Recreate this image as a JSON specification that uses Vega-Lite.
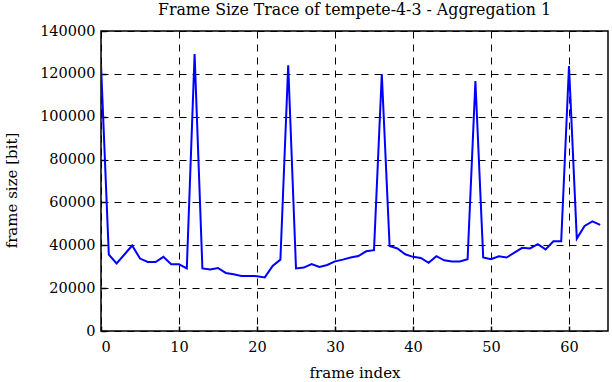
{
  "$schema": "https://vega.github.io/schema/vega-lite/v6.json",
  "autosize": "none",
  "width": 507,
  "height": 300,
  "padding": {"left": 101, "top": 31, "right": 4, "bottom": 51},
  "background": "white",
  "title": {
    "text": "Frame Size Trace of tempete-4-3 - Aggregation 1",
    "font": "DejaVu Serif",
    "fontSize": 15.8,
    "fontWeight": "normal",
    "color": "black",
    "anchor": "middle",
    "offset": 4
  },
  "config": {
    "view": {"stroke": "black", "strokeWidth": 1.5},
    "axis": {
      "labelFont": "DejaVu Serif",
      "titleFont": "DejaVu Serif",
      "labelFontSize": 14.5,
      "titleFontSize": 15,
      "titleFontWeight": "normal",
      "labelColor": "black",
      "titleColor": "black",
      "domain": false,
      "tickColor": "black",
      "tickSize": -5,
      "tickWidth": 1.5,
      "grid": true,
      "gridColor": "black",
      "gridOpacity": 1,
      "gridWidth": 1,
      "gridDash": [7, 6]
    }
  },
  "data": {
    "values": [
      {"frame": 0, "size": 124500},
      {"frame": 1, "size": 35700},
      {"frame": 2, "size": 31500},
      {"frame": 3, "size": 35700},
      {"frame": 4, "size": 39900},
      {"frame": 5, "size": 33800},
      {"frame": 6, "size": 32200},
      {"frame": 7, "size": 32200},
      {"frame": 8, "size": 34600},
      {"frame": 9, "size": 31200},
      {"frame": 10, "size": 31100},
      {"frame": 11, "size": 29200},
      {"frame": 12, "size": 129200},
      {"frame": 13, "size": 29200},
      {"frame": 14, "size": 28700},
      {"frame": 15, "size": 29400},
      {"frame": 16, "size": 27100},
      {"frame": 17, "size": 26500},
      {"frame": 18, "size": 25700},
      {"frame": 19, "size": 25700},
      {"frame": 20, "size": 25600},
      {"frame": 21, "size": 25000},
      {"frame": 22, "size": 30400},
      {"frame": 23, "size": 33300},
      {"frame": 24, "size": 124000},
      {"frame": 25, "size": 29200},
      {"frame": 26, "size": 29600},
      {"frame": 27, "size": 31200},
      {"frame": 28, "size": 29900},
      {"frame": 29, "size": 30800},
      {"frame": 30, "size": 32500},
      {"frame": 31, "size": 33300},
      {"frame": 32, "size": 34300},
      {"frame": 33, "size": 35000},
      {"frame": 34, "size": 37200},
      {"frame": 35, "size": 37700},
      {"frame": 36, "size": 119900},
      {"frame": 37, "size": 39700},
      {"frame": 38, "size": 38500},
      {"frame": 39, "size": 35800},
      {"frame": 40, "size": 34600},
      {"frame": 41, "size": 34100},
      {"frame": 42, "size": 31800},
      {"frame": 43, "size": 34900},
      {"frame": 44, "size": 33000},
      {"frame": 45, "size": 32400},
      {"frame": 46, "size": 32400},
      {"frame": 47, "size": 33500},
      {"frame": 48, "size": 116700},
      {"frame": 49, "size": 34300},
      {"frame": 50, "size": 33500},
      {"frame": 51, "size": 34900},
      {"frame": 52, "size": 34300},
      {"frame": 53, "size": 36600},
      {"frame": 54, "size": 38800},
      {"frame": 55, "size": 38500},
      {"frame": 56, "size": 40500},
      {"frame": 57, "size": 38100},
      {"frame": 58, "size": 41900},
      {"frame": 59, "size": 41900},
      {"frame": 60, "size": 123700},
      {"frame": 61, "size": 43100},
      {"frame": 62, "size": 49000},
      {"frame": 63, "size": 51200},
      {"frame": 64, "size": 49500}
    ]
  },
  "mark": {"type": "line", "color": "#0000ff", "strokeWidth": 2, "clip": true},
  "encoding": {
    "x": {
      "field": "frame",
      "type": "quantitative",
      "scale": {"domain": [0, 65], "nice": false, "zero": false},
      "axis": {
        "title": "frame index",
        "values": [0, 10, 20, 30, 40, 50, 60],
        "labelPadding": 14,
        "titleY": 41,
        "titleBaseline": "middle"
      }
    },
    "y": {
      "field": "size",
      "type": "quantitative",
      "scale": {"domain": [0, 140000], "nice": false},
      "axis": {
        "title": "frame size [bit]",
        "values": [0, 20000, 40000, 60000, 80000, 100000, 120000, 140000],
        "format": "d",
        "labelPadding": 11,
        "titleX": -90,
        "titleY": 159,
        "titleBaseline": "middle",
        "titleAlign": "center"
      }
    }
  }
}
